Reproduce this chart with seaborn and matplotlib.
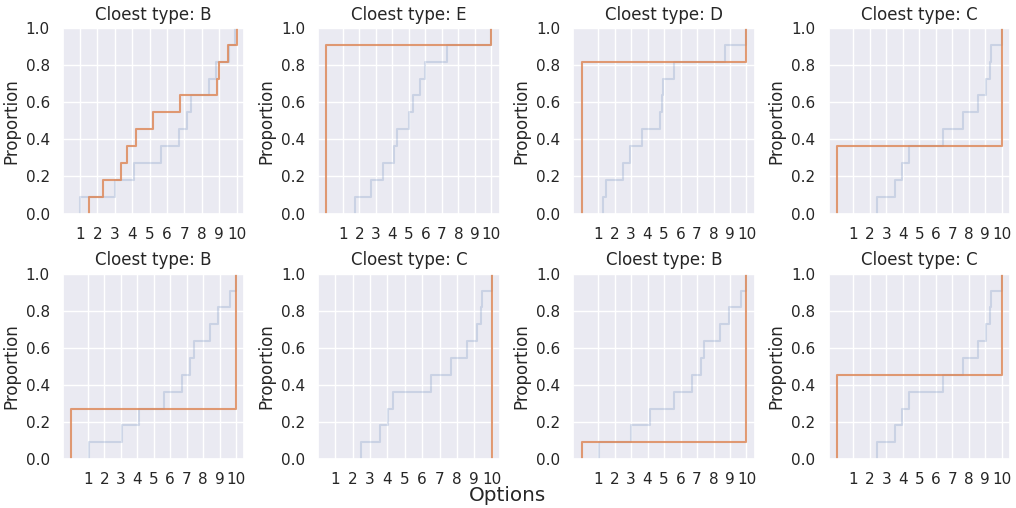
import numpy as np
import pandas as pd
import matplotlib
matplotlib.use("Agg")
import matplotlib.pyplot as plt
import seaborn as sns

# closest type shown in each panel title
titles = ["B", "E", "D", "C", "B", "C", "B", "C"]

# option scores of the other items (light line), one list per panel
others = [
    [1.0, 3.0, 4.1, 5.63, 6.68, 7.15, 7.4, 8.39, 8.8, 9.57, 9.9],
    [1.76, 2.71, 3.41, 4.11, 4.31, 5.02, 5.26, 5.68, 6.0, 7.29, 10.0],
    [1.32, 1.48, 2.51, 2.95, 3.66, 4.76, 4.86, 4.96, 5.63, 8.69, 10.0],
    [2.44, 3.54, 3.98, 4.38, 6.44, 7.64, 8.54, 9.04, 9.3, 9.38, 10.0],
    [1.08, 3.08, 4.14, 5.64, 6.74, 7.2, 7.44, 8.44, 8.88, 9.64, 10.0],
    [2.48, 3.59, 4.04, 4.35, 6.53, 7.67, 8.6, 9.14, 9.37, 9.44, 10.0],
    [1.04, 3.01, 4.16, 5.63, 6.71, 7.22, 7.42, 8.42, 8.93, 9.69, 10.0],
    [2.44, 3.54, 3.98, 4.38, 6.44, 7.64, 8.54, 9.04, 9.28, 9.38, 10.0],
]

# option scores of the closest type (orange line)
closest = [
    [1.53, 2.3, 3.34, 3.72, 4.24, 5.2, 6.73, 8.87, 9.02, 9.53, 10.0],
    [0] * 10 + [10] * 1,
    [0] * 9 + [10] * 2,
    [0] * 4 + [10] * 7,
    [0] * 3 + [10] * 8,
    [10] * 11,
    [0] * 1 + [10] * 10,
    [0] * 5 + [10] * 6,
]

xticks = list(range(1, 11))

sns.set_theme(style="darkgrid")
plt.rcParams["font.family"] = ["DejaVu Sans"]
pal = sns.color_palette("deep")

fig, axes = plt.subplots(2, 4, figsize=(10.16, 5.08), dpi=100)

for i, ax in enumerate(axes.flat):
    df = pd.DataFrame({
        "value": others[i] + closest[i],
        "group": ["other"] * len(others[i]) + ["closest"] * len(closest[i]),
    })
    sns.ecdfplot(data=df[df["group"] == "other"], x="value", ax=ax,
                 color=pal[0], alpha=0.2, linewidth=1.5)
    sns.ecdfplot(data=df[df["group"] == "closest"], x="value", ax=ax,
                 color=pal[1], alpha=0.8, linewidth=1.5)
    ax.set_title(f"Cloest type: {titles[i]}")
    ax.set_xlabel("")
    ax.set_xticks(xticks)
    ax.set_yticks([0.0, 0.2, 0.4, 0.6, 0.8, 1.0])
    if min(closest[i]) > 0:
        ax.set_xlim(0.02, 10.45)

fig.supxlabel("Options", y=0.005)
plt.subplots_adjust(left=0.062, right=0.994, top=0.945, bottom=0.096,
                    wspace=0.407, hspace=0.324)
plt.savefig("out.png", dpi=100)
